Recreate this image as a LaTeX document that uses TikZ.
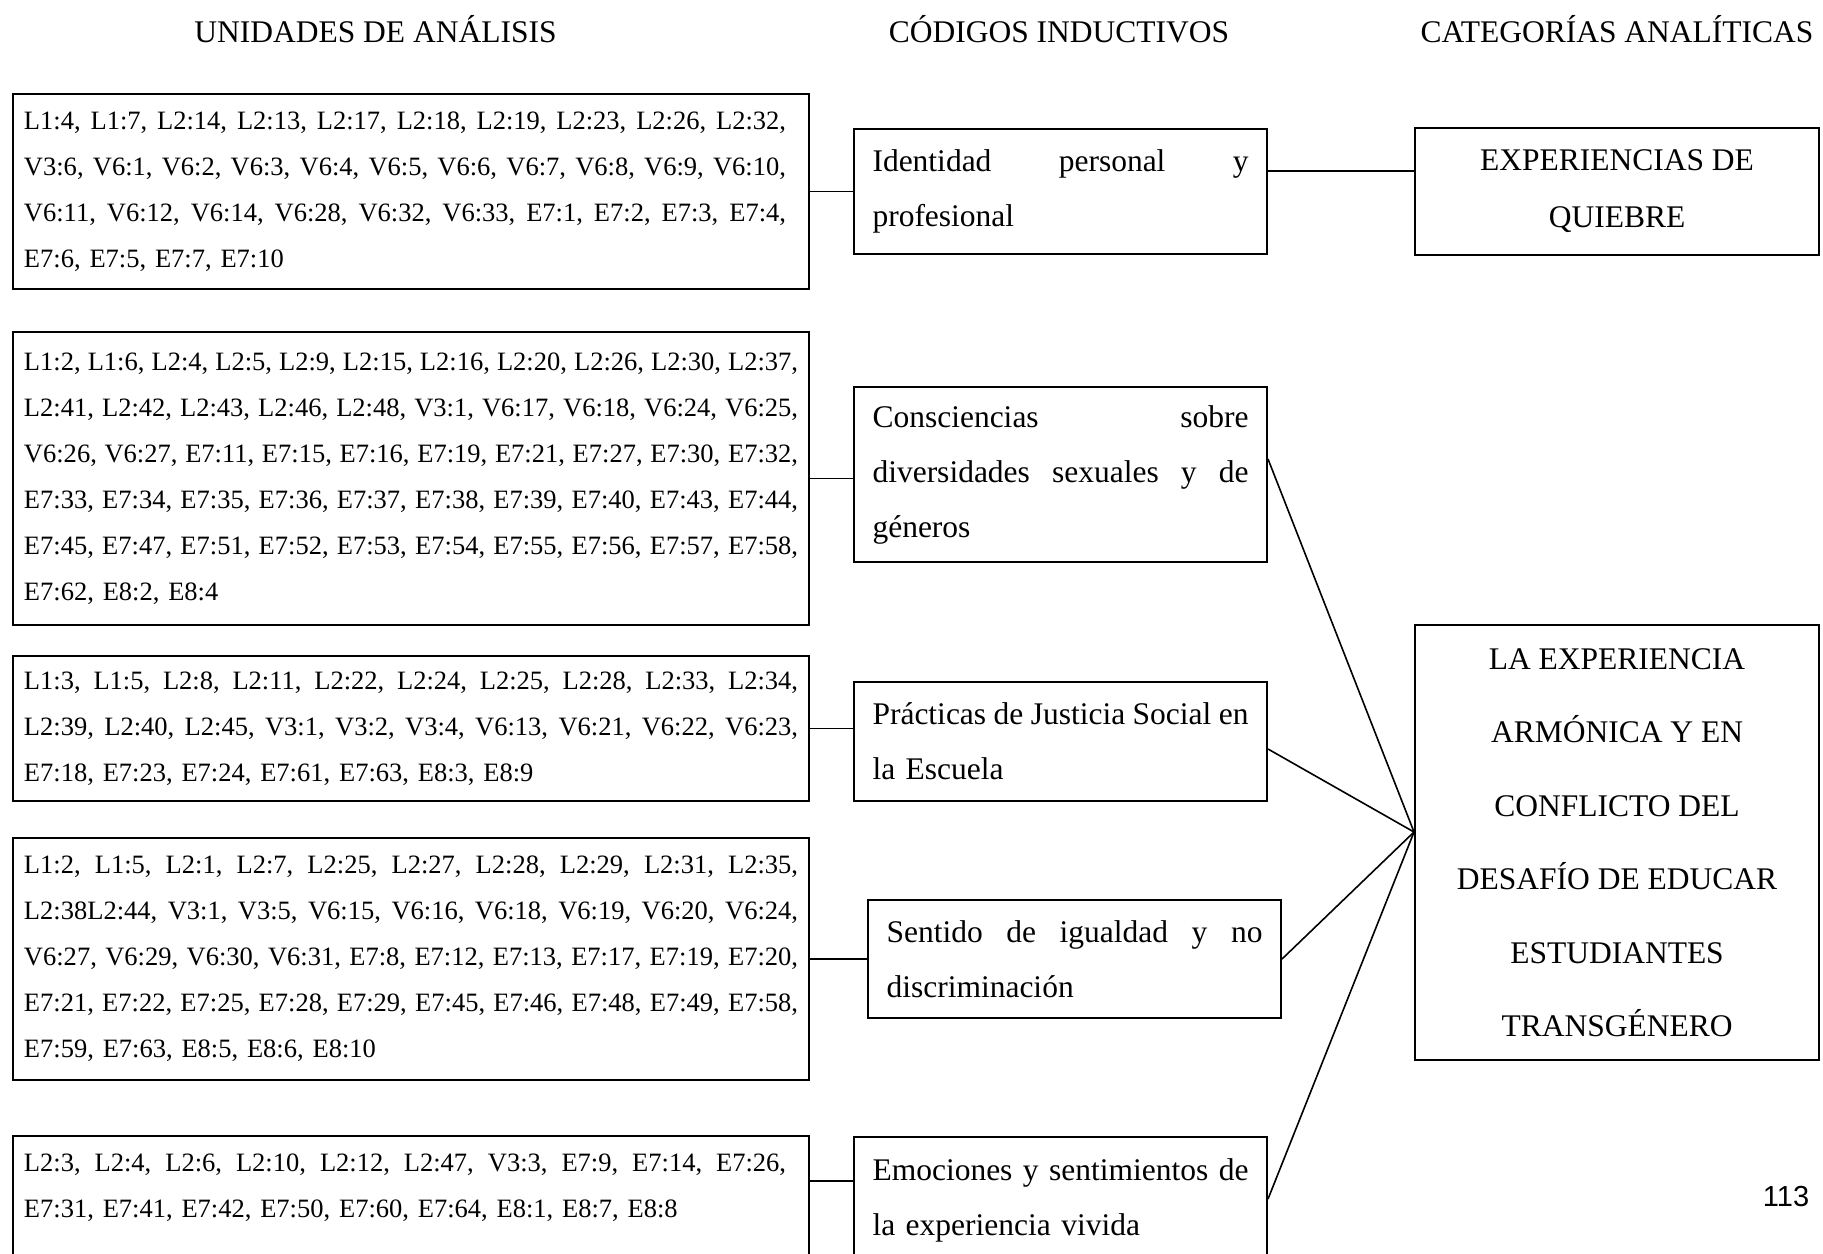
\documentclass[tikz,border=0pt]{standalone}
\usepackage{fontspec}
\setmainfont{Liberation Serif}
\newfontfamily\pagefont{Liberation Sans}
\usetikzlibrary{positioning}

% justified rows: spaces share the extra room evenly
\newcommand{\fillrow}[2][387pt]{\makebox[#1][s]{\spaceskip=.25em plus 1fil minus .1em\relax #2}}
\newcommand{\fillcode}[1]{\makebox[188pt][s]{\spaceskip=.25em plus 1fil minus .1em\relax #1}}

\begin{document}
\begin{tikzpicture}[
            x = 0.5pt, y = -0.5pt, % one unit = one pixel of the scan
            link/.style = {line width = 0.8pt}, % connector style
            line join = miter
        ]

        \tikzstyle{unitbox}=[
            draw = black,
            line width = 1pt,
            text width = 387pt,
            inner xsep = 5.5pt,
            inner ysep = 3pt,
            align = left,
            font = \fontsize{13.25}{23}\selectfont
        ]
        \tikzstyle{codebox}=[
            draw = black,
            line width = 1pt,
            text width = 188pt,
            inner xsep = 9.25pt,
            inner ysep = 3pt,
            align = left,
            font = \fontsize{15.75}{27.5}\selectfont
        ]
        \tikzstyle{catbox}=[
            draw = black,
            line width = 1pt,
            minimum width = 202pt,
            inner sep = 3pt,
            align = center
        ]
        \tikzstyle{header}=[
            inner sep = 0pt,
            font = \fontsize{15.75}{19}\selectfont
        ]

        \useasboundingbox (0,0) rectangle (1823,1253);

        % column titles
        \node[header] (h1) at (375.5,29) {UNIDADES DE ANÁLISIS};
        \node[header] (h2) at (1059,29) {CÓDIGOS INDUCTIVOS};
        \node[header] (h3) at (1617,29) {CATEGORÍAS ANALÍTICAS};

        % units of analysis
        \node[unitbox, minimum height = 97.5pt, anchor = north west] (u1) at (12,93) {%
            \fillrow[381pt]{L1:4, L1:7, L2:14, L2:13, L2:17, L2:18, L2:19, L2:23, L2:26, L2:32,}\\
            \fillrow[381pt]{V3:6, V6:1, V6:2, V6:3, V6:4, V6:5, V6:6, V6:7, V6:8, V6:9, V6:10,}\\
            \fillrow[381pt]{V6:11, V6:12, V6:14, V6:28, V6:32, V6:33, E7:1, E7:2, E7:3, E7:4,}\\
            E7:6, E7:5, E7:7, E7:10};
        \node[unitbox, minimum height = 146.5pt, below = 20.5pt of u1] (u2) {%
            \fillrow{L1:2, L1:6, L2:4, L2:5, L2:9, L2:15, L2:16, L2:20, L2:26, L2:30, L2:37,}\\
            \fillrow{L2:41, L2:42, L2:43, L2:46, L2:48, V3:1, V6:17, V6:18, V6:24, V6:25,}\\
            \fillrow{V6:26, V6:27, E7:11, E7:15, E7:16, E7:19, E7:21, E7:27, E7:30, E7:32,}\\
            \fillrow{E7:33, E7:34, E7:35, E7:36, E7:37, E7:38, E7:39, E7:40, E7:43, E7:44,}\\
            \fillrow{E7:45, E7:47, E7:51, E7:52, E7:53, E7:54, E7:55, E7:56, E7:57, E7:58,}\\
            E7:62, E8:2, E8:4};
        \node[unitbox, minimum height = 72.5pt, below = 14.5pt of u2] (u3) {%
            \fillrow{L1:3, L1:5, L2:8, L2:11, L2:22, L2:24, L2:25, L2:28, L2:33, L2:34,}\\
            \fillrow{L2:39, L2:40, L2:45, V3:1, V3:2, V3:4, V6:13, V6:21, V6:22, V6:23,}\\
            E7:18, E7:23, E7:24, E7:61, E7:63, E8:3, E8:9};
        \node[unitbox, minimum height = 121pt, below = 17.5pt of u3] (u4) {%
            \fillrow{L1:2, L1:5, L2:1, L2:7, L2:25, L2:27, L2:28, L2:29, L2:31, L2:35,}\\
            \fillrow{L2:38L2:44, V3:1, V3:5, V6:15, V6:16, V6:18, V6:19, V6:20, V6:24,}\\
            \fillrow{V6:27, V6:29, V6:30, V6:31, E7:8, E7:12, E7:13, E7:17, E7:19, E7:20,}\\
            \fillrow{E7:21, E7:22, E7:25, E7:28, E7:29, E7:45, E7:46, E7:48, E7:49, E7:58,}\\
            E7:59, E7:63, E8:5, E8:6, E8:10};
        \node[unitbox, minimum height = 72.5pt, below = 27pt of u4] (u5) {%
            \fillrow[381pt]{L2:3, L2:4, L2:6, L2:10, L2:12, L2:47, V3:3, E7:9, E7:14, E7:26,}\\
            E7:31, E7:41, E7:42, E7:50, E7:60, E7:64, E8:1, E8:7, E8:8\\
            \mbox{}};

        % inductive codes
        \node[codebox, minimum height = 62.5pt, right = 21.5pt of u1] (c1) {%
            \fillcode{Identidad personal y}\\
            profesional};
        \node[codebox, minimum height = 87.5pt, right = 21.5pt of u2, yshift = 2pt] (c2) {%
            \fillcode{Consciencias sobre}\\
            \fillcode{diversidades sexuales y de}\\
            géneros};
        \node[codebox, minimum height = 59.5pt, right = 21.5pt of u3, yshift = -6.5pt] (c3) {%
            \fillcode{Prácticas de Justicia Social en}\\
            la Escuela};
        \node[codebox, minimum height = 59pt, right = 28.5pt of u4] (c4) {%
            \fillcode{Sentido de igualdad y no}\\
            discriminación};
        \node[codebox, minimum height = 87.5pt, right = 21.5pt of u5, yshift = -8pt] (c5) {%
            \fillcode{Emociones y sentimientos de}\\
            la experiencia vivida\\
            \mbox{}};

        % analytic categories
        \node[catbox, minimum height = 63.5pt, right = 73pt of c1,
              font = \fontsize{15.75}{28.5}\selectfont] (cat1)
            {EXPERIENCIAS DE\\QUIEBRE};
        \node[catbox, minimum height = 217.5pt, below = 184pt of cat1,
              font = \fontsize{15.75}{36.75}\selectfont] (cat2)
            {LA EXPERIENCIA\\ARMÓNICA Y EN\\CONFLICTO DEL\\DESAFÍO DE EDUCAR\\ESTUDIANTES\\TRANSGÉNERO};

        \node[font = \pagefont\fontsize{14.5}{17}\selectfont] (pnum) at (1786,1196) {113};

        % units -> codes
        \draw[link] (u1.east) -- (c1.west);
        \draw[link] (u2.east) -- (u2.east -| c2.west);
        \draw[link] (u3.east) -- (u3.east -| c3.west);
        \draw[link] (u4.east) -- (u4.east -| c4.west);
        \draw[link] ([yshift=-23pt]u5.north east) -- ([yshift=-23pt]u5.north east -| c5.west);

        % codes -> categories
        \draw[link] ([yshift=10.25pt]c1.east) -- ([yshift=10.25pt]c1.east -| cat1.west);
        \coordinate (hub) at ([yshift=5.25pt]cat2.west);
        \draw[link] ([yshift=7.75pt]c2.east) -- (hub);
        \draw[link] ([yshift=-3.75pt]c3.east) -- (hub);
        \draw[link] (c4.east) -- (hub);
        \draw[link] ([yshift=12.75pt]c5.east) -- (hub);

  \end{tikzpicture}
\end{document}
